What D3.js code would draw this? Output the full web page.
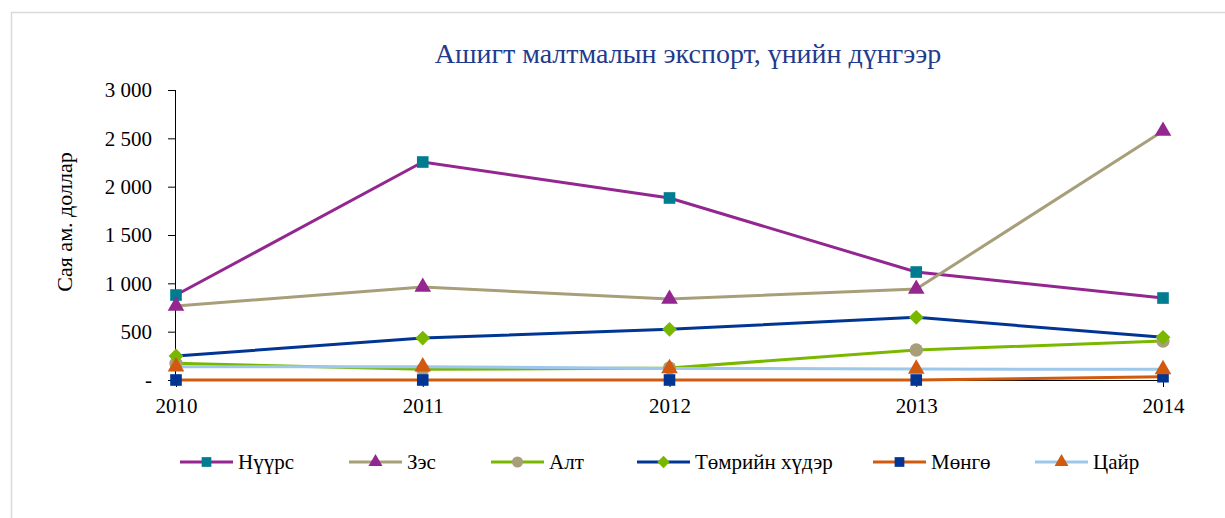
<!DOCTYPE html>
<html><head><meta charset="utf-8">
<script src="https://cdn.jsdelivr.net/npm/d3@7"></script>
<style>body{margin:0;background:#fff}svg{display:block}text{font-family:"Liberation Serif","Times New Roman",serif}</style>
</head><body><svg id="c" width="1225" height="518"></svg>
<script>
const years = [2010, 2011, 2012, 2013, 2014];
const coal   = [879, 2255, 1883, 1117, 848];
const copper = [766, 962, 838, 941, 2576];
const gold   = [172, 110, 124, 310, 403];
const iron   = [248, 434, 524, 648, 441];
const silver = [0, 0, 0, 0, 34];
const zinc   = [138, 138, 120, 114, 110];
const yTicks = [0, 500, 1000, 1500, 2000, 2500, 3000];
const yTickLabels = ["-", "500", "1 000", "1 500", "2 000", "2 500", "3 000"];

const series = [
  {name:"Нүүрс", values:coal, line:"#93278F", marker:"#007C91", shape:"square"},
  {name:"Зэс", values:copper, line:"#A89F7A", marker:"#93278F", shape:"triangle"},
  {name:"Алт", values:gold, line:"#7AB800", marker:"#A89F7A", shape:"circle"},
  {name:"Төмрийн хүдэр", values:iron, line:"#003594", marker:"#7AB800", shape:"diamond"},
  {name:"Мөнгө", values:silver, line:"#D25A0E", marker:"#003594", shape:"square"},
  {name:"Цайр", values:zinc, line:"#9DC8EC", marker:"#D25A0E", shape:"triangle"}
];

const svg = d3.select("#c");
svg.append("path").attr("d","M11.5,518 V12.5 H1225").attr("fill","none").attr("stroke","#d9d9d9").attr("stroke-width",1.5);

const x = d3.scalePoint().domain(years).range([176, 1163]);
const y = d3.scaleLinear().domain([0, 3000]).range([380, 90]);

svg.append("text").attr("x", 688).attr("y", 63).attr("text-anchor","middle")
  .attr("font-size", 28).attr("fill","#1F3B8C").text("Ашигт малтмалын экспорт, үнийн дүнгээр");

svg.append("text").attr("transform","translate(72,222) rotate(-90)").attr("text-anchor","middle")
  .attr("font-size", 22).attr("fill","#000").text("Сая ам. доллар");

const yAxis = d3.axisLeft(y).tickValues(yTicks).tickSize(8).tickPadding(16)
  .tickFormat((d,i)=>yTickLabels[i]);
const gy = svg.append("g").attr("transform","translate(176,0)").call(yAxis);
gy.selectAll("text").attr("font-size",21).attr("fill","#000").attr("font-family","Liberation Serif");
gy.selectAll("line").attr("stroke","#000");
gy.select(".domain").attr("stroke","#000").attr("d","M-0.5,380V90");

const xAxis = d3.axisBottom(x).tickSize(7).tickPadding(11);
const gx = svg.append("g").attr("transform","translate(0,380)").call(xAxis);
gx.selectAll("text").attr("font-size",21).attr("fill","#000").attr("font-family","Liberation Serif");
gx.selectAll("line").attr("stroke","#000");
gx.select(".domain").attr("stroke","#000").attr("d","M176,0.5H1163");

const diamond = {draw(ctx, size){const r=Math.sqrt(size/2); ctx.moveTo(0,-r); ctx.lineTo(r,0); ctx.lineTo(0,r); ctx.lineTo(-r,0); ctx.closePath();}};
const symType = {square:d3.symbolSquare, triangle:d3.symbolTriangle, circle:d3.symbolCircle, diamond:diamond};
const symSize = {square:135, triangle:120, circle:140, diamond:110};
const line = d3.line().x((d,i)=>x(years[i])).y(d=>y(d));

series.forEach(s=>{
  svg.append("path").datum(s.values).attr("d", line).attr("fill","none")
    .attr("stroke", s.line).attr("stroke-width", 3);
});
series.forEach(s=>{
  svg.append("g").selectAll("path").data(s.values).join("path")
    .attr("transform",(d,i)=>`translate(${x(years[i])},${y(d)})`)
    .attr("d", d3.symbol(symType[s.shape], symSize[s.shape]))
    .attr("fill", s.marker);
});

const legX = [180, 349, 491, 637, 873, 1035];
const leg = svg.append("g");
series.forEach((s,i)=>{
  const g = leg.append("g").attr("transform",`translate(${legX[i]},462)`);
  g.append("line").attr("x1",0).attr("x2",53).attr("y1",0).attr("y2",0).attr("stroke",s.line).attr("stroke-width",3);
  g.append("path").attr("transform","translate(26.5,0)").attr("d", d3.symbol(symType[s.shape], symSize[s.shape]*0.7)).attr("fill", s.marker);
  g.append("text").attr("x",58).attr("y",7).attr("font-size",21).attr("fill","#000").text(s.name);
});
</script></body></html>
